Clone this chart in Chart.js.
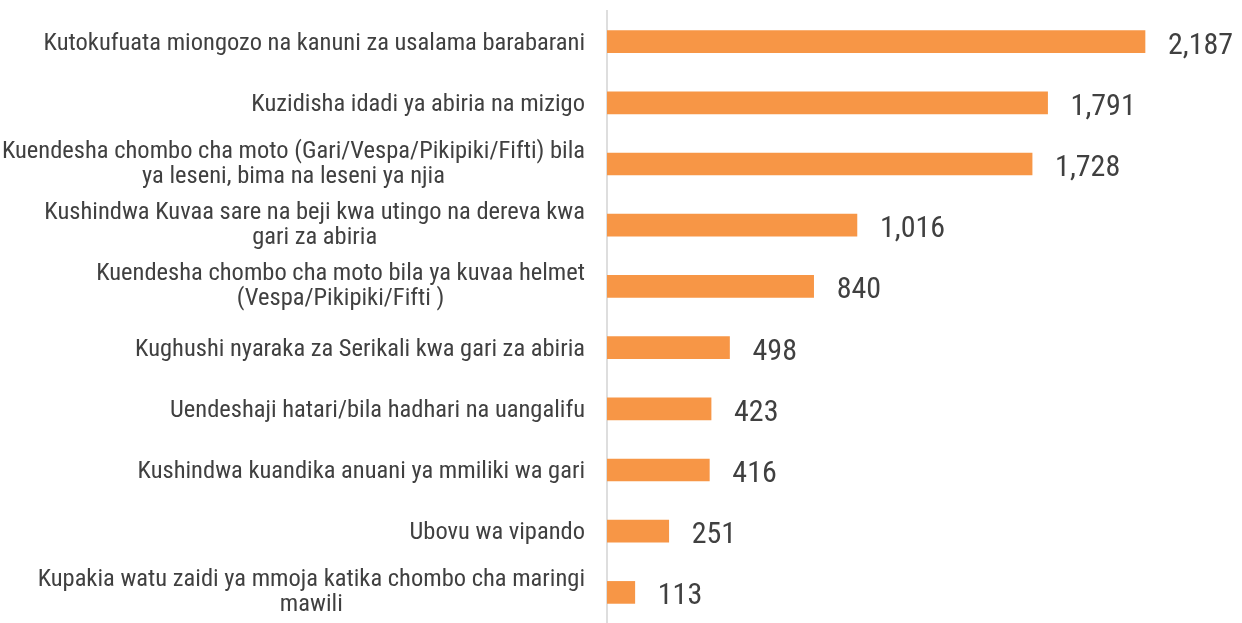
<!DOCTYPE html>
<html>
<head>
<meta charset="utf-8">
<script src="https://cdn.jsdelivr.net/npm/chart.js@4"></script>
<style>
  html, body { margin: 0; padding: 0; background: #fff; }
  #wrap { width: 1242px; height: 623px; }
</style>
</head>
<body>
<div id="wrap"><canvas id="bar-chart" width="1242" height="623"></canvas></div>
<script>
const categories = [
    'Kutokufuata miongozo na kanuni za usalama barabarani',
    'Kuzidisha idadi ya abiria na mizigo',
    ['Kuendesha chombo cha moto (Gari/Vespa/Pikipiki/Fifti) bila', 'ya leseni, bima na leseni ya njia'],
    ['Kushindwa Kuvaa sare na beji kwa utingo na dereva kwa', 'gari za abiria'],
    ['Kuendesha chombo cha moto bila ya kuvaa helmet', '(Vespa/Pikipiki/Fifti )'],
    'Kughushi nyaraka za Serikali kwa gari za abiria',
    'Uendeshaji hatari/bila hadhari na uangalifu',
    'Kushindwa kuandika anuani ya mmiliki wa gari',
    'Ubovu wa vipando',
    ['Kupakia watu zaidi ya mmoja katika chombo cha maringi', 'mawili']
];
const values = [2187, 1791, 1728, 1016, 840, 498, 423, 416, 251, 113];

const FONT = '"Liberation Sans Narrow", "Arial Narrow", "Roboto Condensed", "Liberation Sans", sans-serif';
const TEXT = '#404040';

// category labels: right-aligned block, wrapped lines centred inside it
const labelPlugin = {
    id: 'labelPlugin',
    afterDraw(chart) {
        const c = chart.ctx;
        const y = chart.scales.y;
        c.save();
        c.font = '24.5px ' + FONT;
        c.fillStyle = TEXT;
        c.textBaseline = 'alphabetic';
        c.textAlign = 'center';
        categories.forEach((lab, i) => {
            const lines = Array.isArray(lab) ? lab : [lab];
            const py = y.getPixelForTick(i);
            const w = Math.max(...lines.map(l => c.measureText(l).width));
            const cx = 585 - w / 2;
            const first = lines.length > 1 ? py - 6 : py + 8;
            lines.forEach((l, j) => c.fillText(l, cx, first + j * 25));
        });
        c.restore();
    }
};

// value labels to the right of each bar
const valuePlugin = {
    id: 'valuePlugin',
    afterDatasetsDraw(chart) {
        const c = chart.ctx;
        const meta = chart.getDatasetMeta(0);
        c.save();
        c.font = '30px ' + FONT;
        c.fillStyle = TEXT;
        c.textAlign = 'left';
        c.textBaseline = 'alphabetic';
        meta.data.forEach((bar, i) => {
            c.fillText(values[i].toLocaleString('en-US'), bar.x + 23, bar.y + 12);
        });
        c.restore();
    }
};

new Chart(document.getElementById('bar-chart'), {
    type: 'bar',
    plugins: [labelPlugin, valuePlugin],
    data: {
        labels: categories,
        datasets: [{
            data: values,
            backgroundColor: '#f79646',
            borderWidth: 0,
            barThickness: 22
        }]
    },
    options: {
        indexAxis: 'y',
        responsive: false,
        animation: false,
        layout: {
            padding: { top: 11, bottom: -8, right: 20, left: 0 }
        },
        scales: {
            x: {
                display: false,
                min: 0,
                max: 2500
            },
            y: {
                grid: { display: false },
                ticks: { display: false },
                border: { display: true, color: '#dedede', width: 2 },
                afterFit(scale) { scale.width = 607; }
            }
        },
        plugins: {
            legend: { display: false },
            tooltip: { enabled: false }
        }
    }
});
</script>
</body>
</html>
